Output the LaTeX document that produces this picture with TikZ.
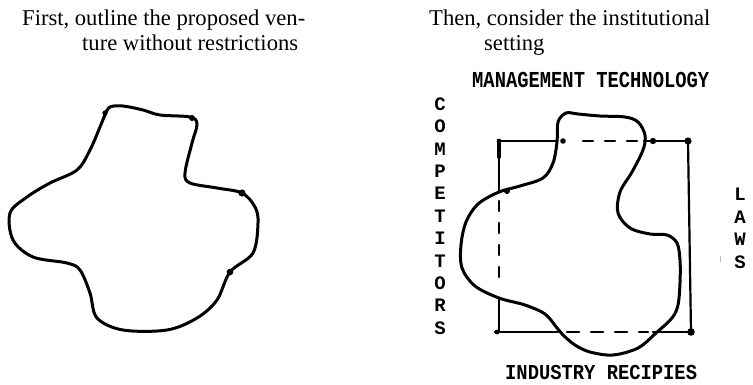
\documentclass[tikz,border=0pt]{standalone}
\usepackage{graphicx}
\usepackage{fontspec}
\setmainfont{Liberation Serif}
\newfontfamily\twfont{Liberation Mono}
\begin{document}
\begin{tikzpicture}[x=1pt,y=-1pt, line cap=round, line join=round,
  outline/.style={line width=3pt, black},
  frame/.style={line width=2.2pt, black},
  dashfr/.style={line width=2.4pt, black, dash pattern=on 10pt off 12pt},
  title/.style={font=\fontsize{22.6}{25}\selectfont, anchor=base west, inner sep=0pt},
  tlab/.style={font=\twfont\bfseries\fontsize{19}{19}\selectfont, inner sep=0pt},
  vlet/.style={font=\twfont\bfseries\fontsize{19}{19}\selectfont, inner sep=0pt}]
\useasboundingbox (0,0) rectangle (753,384);

% titles
\node[title] (t1) at (22,25) {First, outline the proposed ven-};
\node[title] (t2) at (82,50) {ture without restrictions};
\node[title] (t3) at (429,25) {Then, consider the institutional};
\node[title] (t4) at (484,50) {setting};

% left blob
\draw[outline] plot[smooth cycle, tension=0.55] coordinates {
 (105,115) (110,107) (123,106) (143,110) (160,115) (190,117) (197,124)
 (192,143) (185,173) (190,183) (217,188) (242,193) (255,207) (258,223)
 (253,253) (230,272) (217,300) (197,318) (167,330) (123,330) (97,318)
 (90,293) (80,270) (67,263) (33,257) (13,240) (10,213) (27,197) (50,183)
 (77,170) (90,150) (100,127)};
\fill (105,113) circle (2.6);
\fill (192,118) circle (3);
\fill (242,193) circle (3.6);
\fill (230,272) circle (3.3);

% rectangle (institutional setting)
\draw[frame] (499,141) -- (557,141);
\draw[dashfr] (583,141) -- (637,141);
\draw[frame] (644,141) -- (688,141);
\draw[frame] (688,141) -- (691,332);
\draw[frame] (495,332) -- (558,332);
\draw[line width=2.4pt, dash pattern=on 12pt off 12pt] (567,332) -- (648,332);
\draw[frame] (653,332) -- (691,332);
\draw[frame] (499,141) -- (499,192);
\draw[line width=3.6pt] (499,142) -- (499,157);
\draw[dashfr] (499,201) -- (499,282);
\draw[frame] (499,298) -- (499,332);
\fill (563,141) circle (2.8);
\fill (653,141) circle (3.2);
\fill (688,141) circle (3.6);
\fill (499,141) circle (2.4);
\fill (507,191) circle (3);
\fill (497,332) circle (2.4);
\fill (691,332) circle (3.8);

% right blob
\draw[outline] plot[smooth cycle, tension=0.55] coordinates {
 (557,142) (558,122) (566,113) (578,114) (600,116) (625,117) (638,122)
 (645,135) (643,150) (632,172) (620,192) (618,213) (630,228) (650,234)
 (667,235) (677,243) (680,260) (680,283) (678,305) (672,318) (656,333)
 (638,348) (613,355) (590,352) (575,345) (563,335) (557,328) (545,314)
 (525,305) (499,298) (475,286) (462,268) (461,245) (466,222) (478,204)
 (499,192) (520,186) (543,178) (553,163)};

% labels
\node[tlab, anchor=west] (mt) at (472,80) {\scalebox{0.99}[1.2]{MANAGEMENT TECHNOLOGY}};
\node[tlab, anchor=west] (ir) at (505,372) {\scalebox{0.99}[1.12]{INDUSTRY RECIPIES}};
\foreach \l [count=\i from 0] in {C,O,M,P,E,T,I,T,O,R,S}
  \node[vlet] (c\i) at (440,104+22.4*\i) {\l};
\foreach \l [count=\i from 0] in {L,A,W,S}
  \node[vlet] (l\i) at (740,194+22.8*\i) {\l};

% faint scan mark
\draw[gray!50, line width=1pt] (720,256) -- (720,262);
\end{tikzpicture}
\end{document}
